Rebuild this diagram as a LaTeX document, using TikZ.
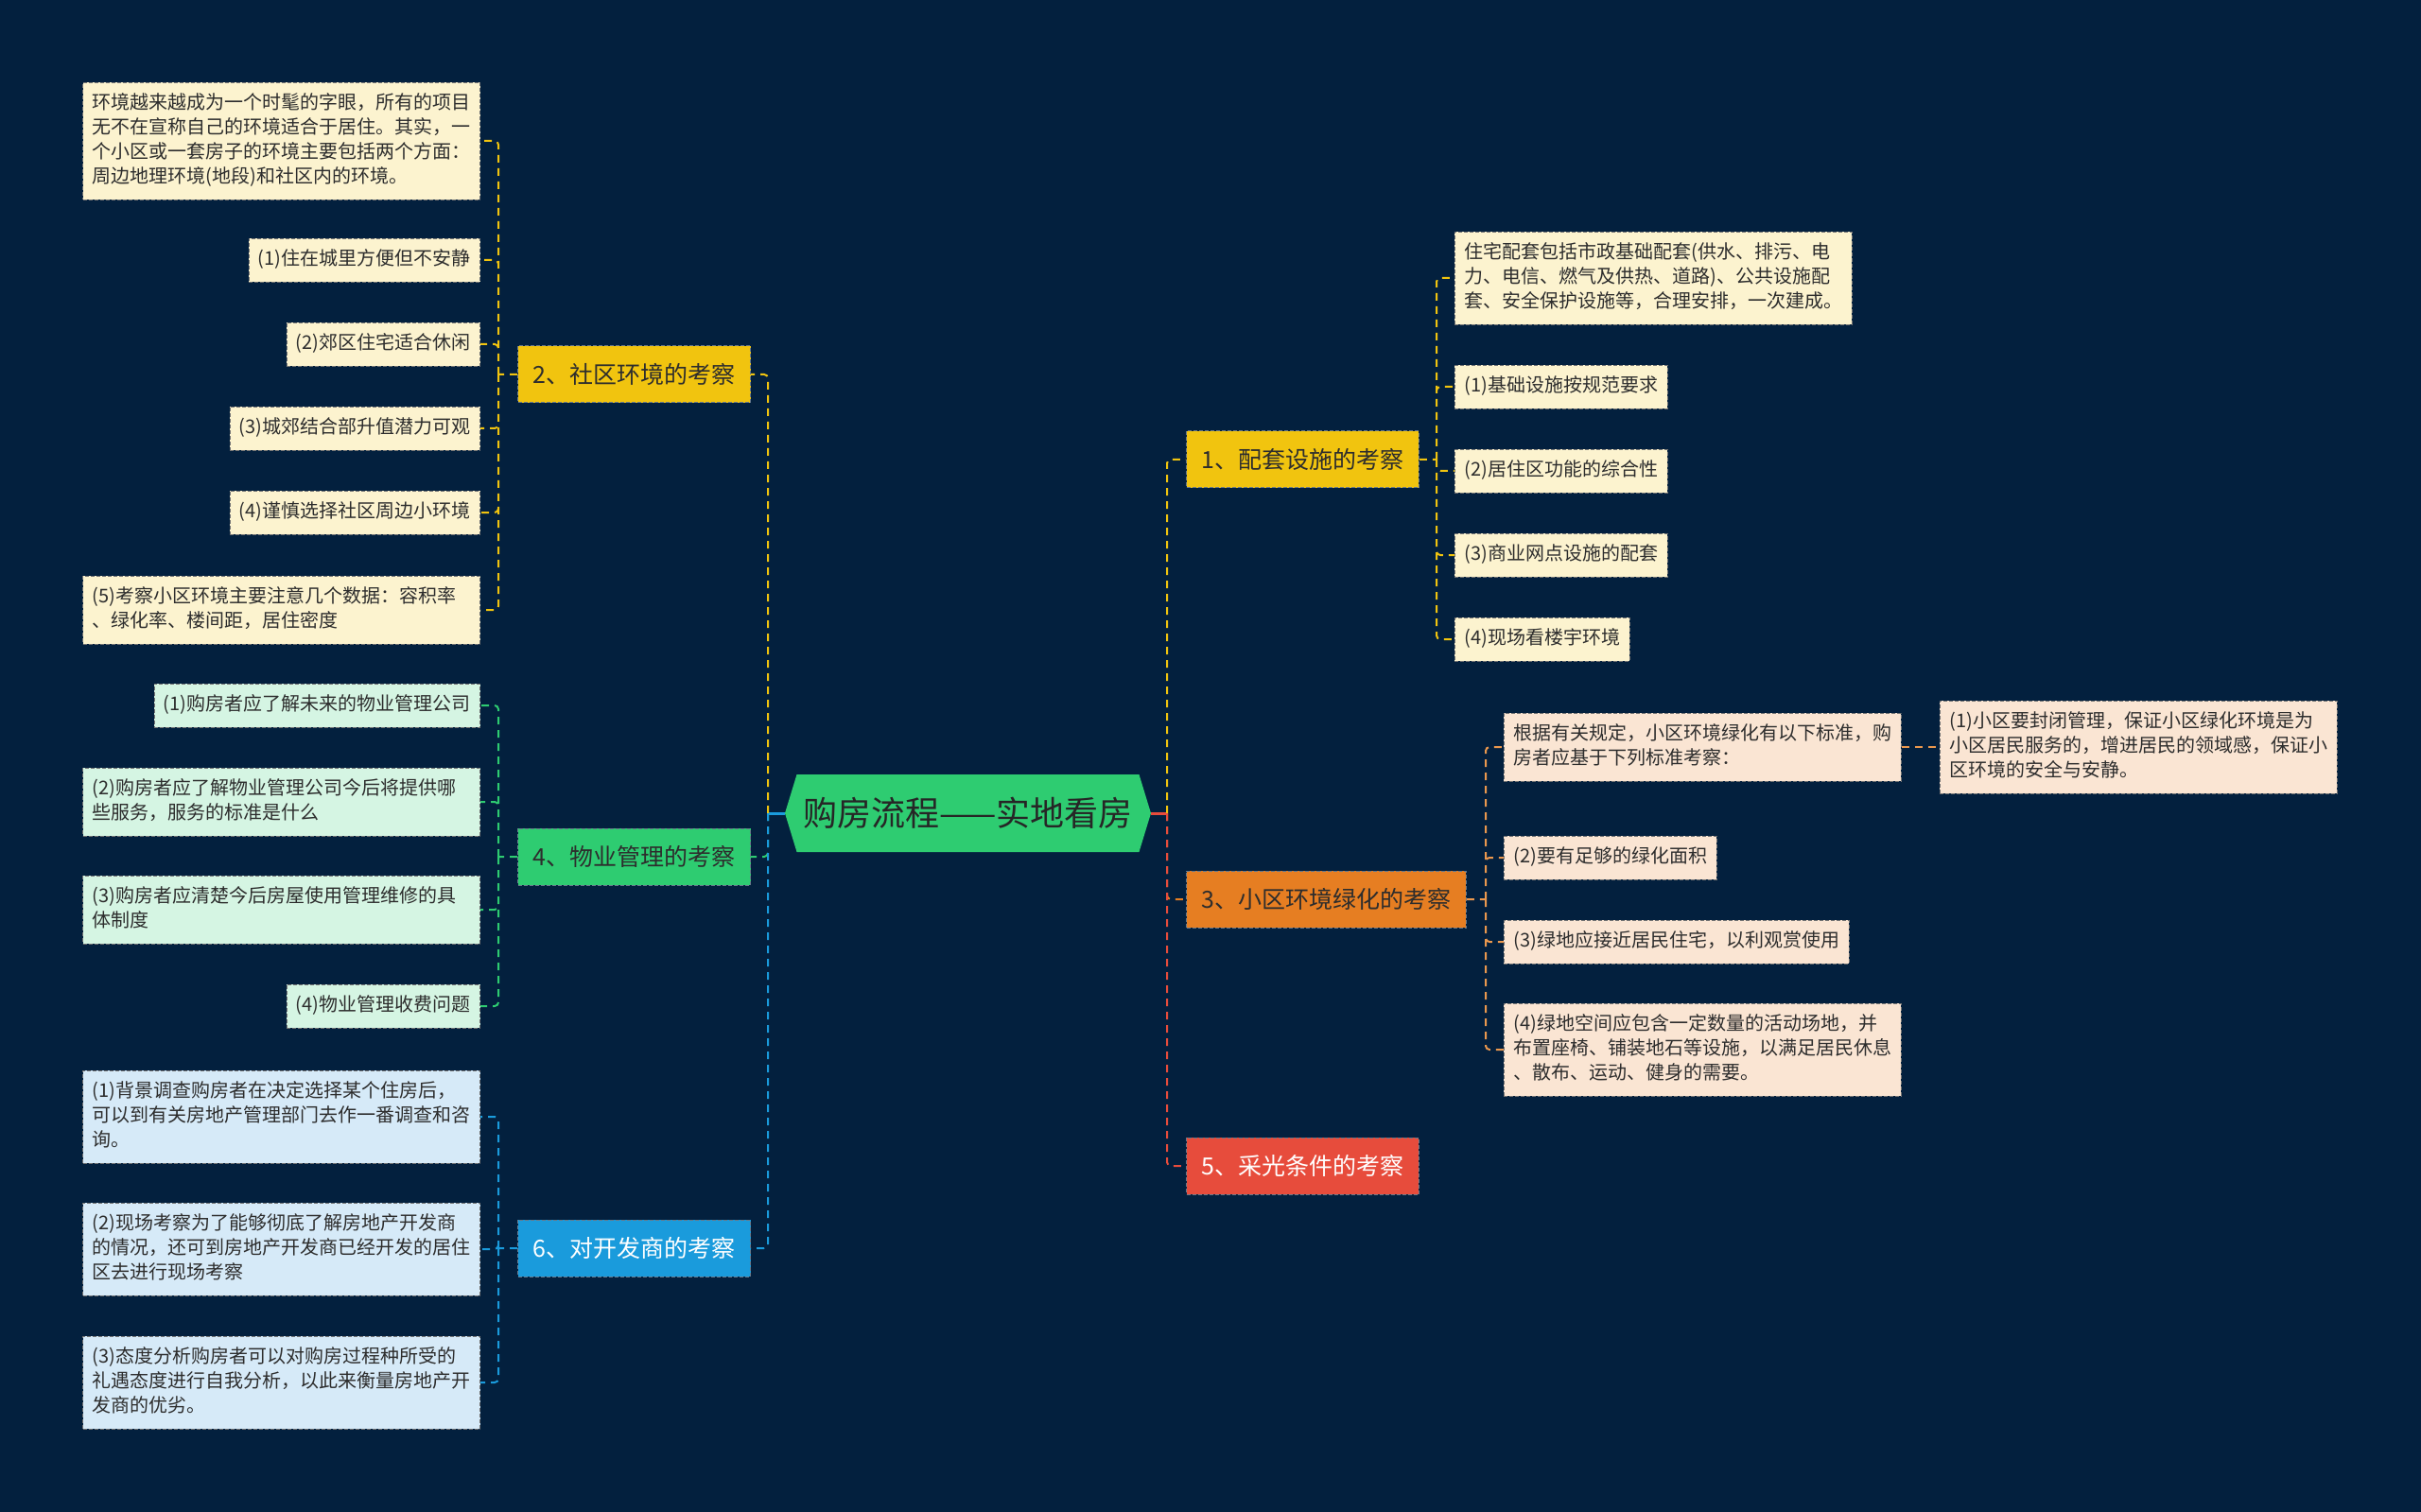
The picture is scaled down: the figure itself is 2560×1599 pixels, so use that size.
\documentclass[tikz,border=0pt]{standalone}
\usepackage{fontspec}
\setmainfont{Noto Sans CJK SC}
\usepackage{xcolor}
\usepackage{tikz}
\usetikzlibrary{shapes.symbols}
\definecolor{bgnavy}{RGB}{3, 32, 62}
\definecolor{mapyellow}{RGB}{241, 196, 15}
\definecolor{mapgreen}{RGB}{46, 204, 113}
\definecolor{mapblue}{RGB}{26, 155, 220}
\definecolor{maporange}{RGB}{230, 126, 34}
\definecolor{mapred}{RGB}{231, 76, 60}
\definecolor{leafyellow}{RGB}{252, 243, 207}
\definecolor{leafgreen}{RGB}{213, 245, 227}
\definecolor{leafblue}{RGB}{214, 234, 248}
\definecolor{leafpeach}{RGB}{250, 229, 211}
\definecolor{inkgray}{RGB}{45, 45, 45}

\begin{document}
\begin{tikzpicture}[x=0.5pt, y=-0.5pt,
    topic/.style={draw=bgnavy!60, dash pattern=on 2pt off 1pt, line width=0.5pt,
        font=\fontsize{12.5}{15}\selectfont, text=inkgray, inner xsep=8pt, minimum height=30pt},
    leaf/.style={draw=black!55, dash pattern=on 2pt off 1pt, line width=0.4pt,
        font=\fontsize{10}{13}\selectfont, text=inkgray, inner xsep=5pt, inner ysep=5pt,
        align=left, execute at begin node=\strut, execute at end node=\strut},
    wide/.style={text width=200pt},
    link/.style={line width=1pt, dash pattern=on 4pt off 3pt, rounded corners=2pt}]

    % Background
    \useasboundingbox (0,0) rectangle (2560,1599);
    \fill[bgnavy] (0,0) rectangle (2560,1599);

    % Root
    \node[signal, signal to=west and east, signal pointer angle=146, fill=mapgreen,
        minimum width=193.5pt, minimum height=41pt, inner xsep=0pt,
        font=\fontsize{18}{20}\selectfont, text=black!85] (root) at (1023.5,860) {购房流程——实地看房};

    % Left topics
    \node[topic, fill=mapyellow, anchor=east] (b2) at (794,396) {2、社区环境的考察};
    \node[topic, fill=mapgreen, anchor=east] (b4) at (794,906) {4、物业管理的考察};
    \node[topic, fill=mapblue, text=white, anchor=east] (b6) at (794,1320) {6、对开发商的考察};

    % Right topics
    \node[topic, fill=mapyellow, anchor=west] (b1) at (1254,486) {1、配套设施的考察};
    \node[topic, fill=maporange, anchor=west] (b3) at (1254,951) {3、小区环境绿化的考察};
    \node[topic, fill=mapred, text=white, anchor=west] (b5) at (1254,1233) {5、采光条件的考察};

    % Leaves of 2
    \node[leaf, wide, fill=leafyellow, anchor=east] (b2t) at (508,149) {环境越来越成为一个时髦的字眼，所有的项目\\无不在宣称自己的环境适合于居住。其实，一\\个小区或一套房子的环境主要包括两个方面：\\周边地理环境(地段)和社区内的环境。};
    \node[leaf, fill=leafyellow, anchor=east] (b2a) at (508,275) {(1)住在城里方便但不安静};
    \node[leaf, fill=leafyellow, anchor=east] (b2b) at (508,364) {(2)郊区住宅适合休闲};
    \node[leaf, fill=leafyellow, anchor=east] (b2c) at (508,453) {(3)城郊结合部升值潜力可观};
    \node[leaf, fill=leafyellow, anchor=east] (b2d) at (508,542) {(4)谨慎选择社区周边小环境};
    \node[leaf, wide, fill=leafyellow, anchor=east] (b2e) at (508,645) {(5)考察小区环境主要注意几个数据：容积率\\、绿化率、楼间距，居住密度};

    % Leaves of 4
    \node[leaf, fill=leafgreen, anchor=east] (b4a) at (508,746) {(1)购房者应了解未来的物业管理公司};
    \node[leaf, wide, fill=leafgreen, anchor=east] (b4b) at (508,848) {(2)购房者应了解物业管理公司今后将提供哪\\些服务，服务的标准是什么};
    \node[leaf, wide, fill=leafgreen, anchor=east] (b4c) at (508,962) {(3)购房者应清楚今后房屋使用管理维修的具\\体制度};
    \node[leaf, fill=leafgreen, anchor=east] (b4d) at (508,1064) {(4)物业管理收费问题};

    % Leaves of 6
    \node[leaf, wide, fill=leafblue, anchor=east] (b6a) at (508,1181) {(1)背景调查购房者在决定选择某个住房后，\\可以到有关房地产管理部门去作一番调查和咨\\询。};
    \node[leaf, wide, fill=leafblue, anchor=east] (b6b) at (508,1321) {(2)现场考察为了能够彻底了解房地产开发商\\的情况，还可到房地产开发商已经开发的居住\\区去进行现场考察};
    \node[leaf, wide, fill=leafblue, anchor=east] (b6c) at (508,1462) {(3)态度分析购房者可以对购房过程种所受的\\礼遇态度进行自我分析，以此来衡量房地产开\\发商的优劣。};

    % Leaves of 1
    \node[leaf, wide, fill=leafyellow, anchor=west] (b1t) at (1538,294) {住宅配套包括市政基础配套(供水、排污、电\\力、电信、燃气及供热、道路)、公共设施配\\套、安全保护设施等，合理安排，一次建成。};
    \node[leaf, fill=leafyellow, anchor=west] (b1a) at (1538,409) {(1)基础设施按规范要求};
    \node[leaf, fill=leafyellow, anchor=west] (b1b) at (1538,498) {(2)居住区功能的综合性};
    \node[leaf, fill=leafyellow, anchor=west] (b1c) at (1538,587) {(3)商业网点设施的配套};
    \node[leaf, fill=leafyellow, anchor=west] (b1d) at (1538,676) {(4)现场看楼宇环境};

    % Leaves of 3
    \node[leaf, wide, fill=leafpeach, anchor=west] (b3t) at (1590,790) {根据有关规定，小区环境绿化有以下标准，购\\房者应基于下列标准考察：};
    \node[leaf, wide, fill=leafpeach, anchor=west] (b3s) at (2051,790) {(1)小区要封闭管理，保证小区绿化环境是为\\小区居民服务的，增进居民的领域感，保证小\\区环境的安全与安静。};
    \node[leaf, fill=leafpeach, anchor=west] (b3a) at (1590,907) {(2)要有足够的绿化面积};
    \node[leaf, fill=leafpeach, anchor=west] (b3b) at (1590,996) {(3)绿地应接近居民住宅，以利观赏使用};
    \node[leaf, wide, fill=leafpeach, anchor=west] (b3c) at (1590,1110) {(4)绿地空间应包含一定数量的活动场地，并\\布置座椅、铺装地石等设施，以满足居民休息\\、散布、运动、健身的需要。};

    % Draw trunk links
    \coordinate (jl) at (812,860);
    \coordinate (jr) at (1234,860);
    \draw[mapblue, line width=1.5pt] (root.west) -- (jl);
    \draw[mapred, line width=1.5pt] (root.east) -- (jr);
    \draw[link, mapyellow] (jl) |- (b2.east);
    \draw[link, mapgreen] (jl) |- (b4.east);
    \draw[link, mapblue] (jl) |- (b6.east);
    \draw[link, mapyellow] (jr) |- (b1.west);
    \draw[link, maporange] (jr) |- (b3.west);
    \draw[link, mapred] (jr) |- (b5.west);

    % Draw leaf links
    \coordinate (j2) at (527,396);
    \draw[link, mapyellow] (b2.west) -- (j2) (j2) |- (b2t.east) (j2) |- (b2a.east) (j2) |- (b2b.east)
        (j2) |- (b2c.east) (j2) |- (b2d.east) (j2) |- (b2e.east);
    \coordinate (j4) at (527,906);
    \draw[link, mapgreen] (b4.west) -- (j4) (j4) |- (b4a.east) (j4) |- (b4b.east)
        (j4) |- (b4c.east) (j4) |- (b4d.east);
    \coordinate (j6) at (527,1320);
    \draw[link, mapblue] (b6.west) -- (j6) (j6) |- (b6a.east) (j6) |- (b6b.east) (j6) |- (b6c.east);
    \coordinate (j1) at (1519,486);
    \draw[link, mapyellow] (b1.east) -- (j1) (j1) |- (b1t.west) (j1) |- (b1a.west) (j1) |- (b1b.west)
        (j1) |- (b1c.west) (j1) |- (b1d.west);
    \coordinate (j3) at (1571,951);
    \draw[link, maporange!80!white] (b3.east) -- (j3) (j3) |- (b3t.west) (j3) |- (b3a.west)
        (j3) |- (b3b.west) (j3) |- (b3c.west);
    \draw[link, maporange!80!white] (b3t.east) -- (b3s.west);
\end{tikzpicture}
\end{document}
